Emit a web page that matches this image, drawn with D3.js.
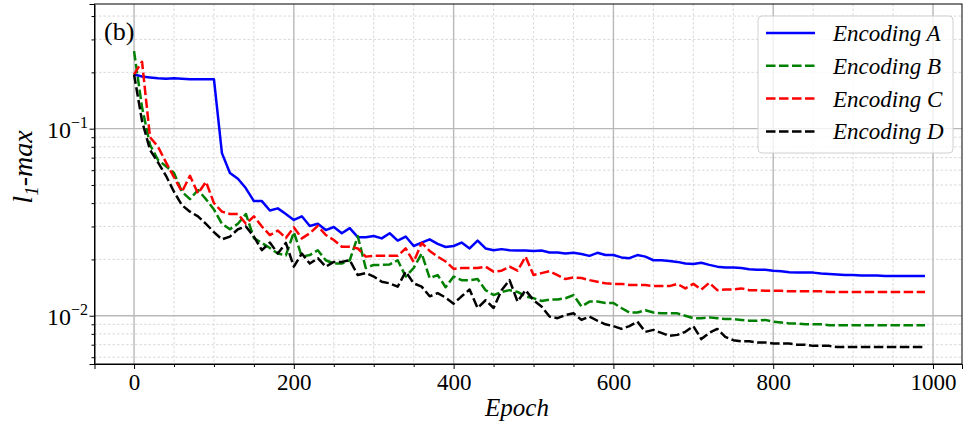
<!DOCTYPE html>
<html>
<head>
<meta charset="utf-8">
<script src="https://d3js.org/d3.v7.min.js"></script>
<style>
  body { margin: 0; background: #fff; }
  svg { display: block; }
  text { font-family: "Liberation Serif", "Times New Roman", serif; }
</style>
</head>
<body>
<div id="chart"></div>
<script>
// epochs sampled every 10
const epochs = d3.range(0, 1000, 10);

const encA = [0.195,0.19,0.188,0.186,0.185,0.186,0.185,0.184,0.184,0.184,
  0.184,0.074,0.058,0.054,0.048,0.041,0.041,0.0365,0.0375,0.035,
  0.0325,0.034,0.0302,0.031,0.0287,0.0298,0.0276,0.0294,0.0263,0.0263,
  0.0267,0.0259,0.0276,0.0252,0.0265,0.0236,0.0246,0.0256,0.0242,0.0233,
  0.0236,0.0246,0.0229,0.0252,0.0229,0.0224,0.0227,0.0224,0.0223,0.0223,
  0.0222,0.0223,0.0218,0.0218,0.0215,0.0217,0.0214,0.0209,0.0217,0.0211,
  0.0211,0.0205,0.0203,0.0211,0.0207,0.0198,0.0198,0.0196,0.0194,0.019,
  0.0189,0.0192,0.0187,0.0183,0.0181,0.0181,0.018,0.0177,0.0176,0.0176,
  0.0174,0.0173,0.0171,0.017,0.017,0.017,0.0168,0.0167,0.0166,0.0165,
  0.0165,0.0164,0.0164,0.0164,0.0163,0.0163,0.0163,0.0163,0.0163,0.0163];

const encB = [0.26,0.13,0.082,0.068,0.063,0.058,0.046,0.042,0.047,0.042,
  0.037,0.031,0.029,0.031,0.035,0.026,0.0245,0.023,0.0215,0.021,
  0.028,0.0207,0.0211,0.0224,0.0198,0.019,0.019,0.0198,0.0266,0.018,
  0.0187,0.0187,0.0188,0.0198,0.0162,0.018,0.0215,0.0159,0.0165,0.0142,
  0.0162,0.0155,0.0155,0.0157,0.0137,0.0129,0.0134,0.0137,0.0134,0.0127,
  0.0124,0.012,0.0122,0.0122,0.0124,0.0129,0.0112,0.0119,0.0119,0.0117,
  0.0117,0.011,0.0104,0.0104,0.0107,0.0104,0.0103,0.0103,0.0103,0.01,
  0.0097,0.0097,0.0098,0.0097,0.0096,0.0096,0.0095,0.0094,0.0094,0.0095,
  0.0093,0.0092,0.0091,0.0091,0.009,0.009,0.009,0.0089,0.0089,0.0089,
  0.0089,0.0089,0.0089,0.0089,0.0089,0.0089,0.0089,0.0089,0.0089,0.0089];

const encC = [0.195,0.228,0.09,0.08,0.066,0.055,0.046,0.056,0.045,0.052,
  0.04,0.036,0.035,0.035,0.031,0.034,0.030,0.027,0.0285,0.026,
  0.0297,0.0259,0.0276,0.0302,0.027,0.0254,0.0234,0.0234,0.0229,0.0207,
  0.0209,0.0209,0.0209,0.0209,0.0229,0.0194,0.0245,0.0222,0.0207,0.0195,
  0.0178,0.018,0.018,0.018,0.0183,0.0172,0.0174,0.0183,0.0174,0.0207,
  0.0165,0.0169,0.0173,0.0165,0.0157,0.016,0.0159,0.0155,0.0152,0.0149,
  0.0148,0.0148,0.0146,0.0146,0.0146,0.0144,0.0144,0.0144,0.0148,0.014,
  0.0148,0.0138,0.015,0.0137,0.0138,0.0138,0.014,0.0137,0.0137,0.0136,
  0.0136,0.0136,0.0135,0.0135,0.0135,0.0135,0.0135,0.0134,0.0134,0.0134,
  0.0134,0.0134,0.0134,0.0134,0.0134,0.0134,0.0134,0.0134,0.0134,0.0134];

const encD = [0.195,0.11,0.077,0.066,0.056,0.046,0.039,0.036,0.034,0.031,
  0.028,0.0256,0.0265,0.029,0.03,0.0265,0.0224,0.0246,0.0215,0.0245,
  0.0183,0.0215,0.019,0.0203,0.0183,0.0194,0.0194,0.0198,0.0165,0.0169,
  0.0162,0.0152,0.0149,0.0143,0.0172,0.0149,0.0143,0.0127,0.0132,0.0125,
  0.0116,0.0127,0.0138,0.011,0.0121,0.011,0.0137,0.0155,0.0119,0.0137,
  0.0121,0.0112,0.0099,0.0097,0.0101,0.0103,0.0095,0.0099,0.0094,0.009,
  0.0088,0.0085,0.0088,0.0093,0.0082,0.0084,0.0081,0.0078,0.0079,0.0082,
  0.0088,0.0075,0.0081,0.0085,0.0077,0.0074,0.0073,0.0073,0.0072,0.0072,
  0.0071,0.0071,0.0071,0.007,0.007,0.0069,0.0069,0.0069,0.0068,0.0068,
  0.0068,0.0068,0.0068,0.0068,0.0068,0.0068,0.0068,0.0068,0.0068,0.0068];

const seriesNames = ["Encoding A", "Encoding B", "Encoding C", "Encoding D"];
const xTicks = [0, 200, 400, 600, 800, 1000];
const xMinorTicks = [50, 100, 150, 250, 300, 350, 450, 500, 550, 650, 700, 750, 850, 900, 950];
const yTicks = [0.01, 0.1];
const yTickLabels = ["\u22122", "\u22121"];
const yMinorTicks = [0.006, 0.007, 0.008, 0.009, 0.02, 0.03, 0.04, 0.05, 0.06, 0.07, 0.08, 0.09, 0.2, 0.3, 0.4];

const width = 963, height = 430;
const plotLeft = 94.5, plotRight = 962, plotTop = 4, plotBottom = 364;

const colors = ["#0000ff", "#008000", "#ff0000", "#000000"];
const dashes = [null, "9.5,3.5", "9.5,3.5", "9.5,3.5"];

const svg = d3.select("#chart").append("svg")
  .attr("width", width)
  .attr("height", height);

const x = d3.scaleLinear().domain([-49.5, 1036.3]).range([plotLeft, plotRight]);
const y = d3.scaleLog().domain([0.00552, 0.464]).range([plotBottom, plotTop]);

// grid
const grid = svg.append("g");
grid.selectAll("line.xminor").data(xMinorTicks).join("line")
  .attr("x1", d => x(d)).attr("x2", d => x(d))
  .attr("y1", plotTop).attr("y2", plotBottom)
  .attr("stroke", "#cfcfcf").attr("stroke-width", 0.8).attr("stroke-dasharray", "2.5,2");
grid.selectAll("line.yminor").data(yMinorTicks).join("line")
  .attr("x1", plotLeft).attr("x2", plotRight)
  .attr("y1", d => y(d)).attr("y2", d => y(d))
  .attr("stroke", "#cfcfcf").attr("stroke-width", 0.8).attr("stroke-dasharray", "2.5,2");
grid.selectAll("line.xmajor").data(xTicks).join("line")
  .attr("x1", d => x(d)).attr("x2", d => x(d))
  .attr("y1", plotTop).attr("y2", plotBottom)
  .attr("stroke", "#b8b8b8").attr("stroke-width", 1.4);
grid.selectAll("line.ymajor").data(yTicks).join("line")
  .attr("x1", plotLeft).attr("x2", plotRight)
  .attr("y1", d => y(d)).attr("y2", d => y(d))
  .attr("stroke", "#b8b8b8").attr("stroke-width", 1.4);

// lines
svg.append("clipPath").attr("id", "clip")
  .append("rect").attr("x", plotLeft).attr("y", plotTop)
  .attr("width", plotRight - plotLeft).attr("height", plotBottom - plotTop);

const allSeries = [encA, encB, encC, encD];
const line = d3.line().x((d, i) => x(epochs[i])).y(d => y(d));

svg.append("g").attr("clip-path", "url(#clip)")
  .selectAll("path").data(allSeries).join("path")
  .attr("d", d => line(d))
  .attr("fill", "none")
  .attr("stroke", (d, i) => colors[i])
  .attr("stroke-width", 2.5)
  .attr("stroke-dasharray", (d, i) => dashes[i])
  .attr("stroke-linejoin", "round");

// axes
const xAxis = svg.append("g").attr("transform", `translate(0,${plotBottom})`)
  .call(d3.axisBottom(x).tickValues(xTicks).tickSize(5).tickPadding(5).tickFormat(d3.format("d")));
svg.append("g").attr("transform", `translate(0,${plotBottom})`)
  .call(d3.axisBottom(x).tickValues(xMinorTicks).tickSize(3).tickFormat(""))
  .call(g => g.select(".domain").remove());
xAxis.selectAll("text").attr("font-size", 23).attr("fill", "#000")
  .style("font-family", "'Liberation Serif', serif");

svg.append("g").attr("transform", `translate(${plotLeft},0)`)
  .call(d3.axisLeft(y).tickValues(yTicks).tickSize(5).tickFormat(""));
svg.append("g").attr("transform", `translate(${plotLeft},0)`)
  .call(d3.axisLeft(y).tickValues(yMinorTicks).tickSize(3).tickFormat(""))
  .call(g => g.select(".domain").remove());

const yLab = svg.append("g").selectAll("text").data(yTicks).join("text")
  .attr("x", 88)
  .attr("y", d => y(d) + 9)
  .attr("text-anchor", "end")
  .attr("font-size", 24);
yLab.append("tspan").text("10");
yLab.append("tspan").attr("font-size", 16).attr("dy", -10).text((d, i) => yTickLabels[i]);

svg.selectAll(".domain").attr("stroke", "#000");
svg.selectAll(".tick line").attr("stroke", "#000");

// frame
svg.append("rect")
  .attr("x", plotLeft).attr("y", plotTop)
  .attr("width", plotRight - plotLeft).attr("height", plotBottom - plotTop)
  .attr("fill", "none").attr("stroke", "#000").attr("stroke-width", 1);

// labels
svg.append("text")
  .attr("x", 517).attr("y", 416)
  .attr("text-anchor", "middle")
  .attr("font-size", 25).attr("font-style", "italic")
  .text("Epoch");

const yl = svg.append("text")
  .attr("transform", "translate(32,167) rotate(-90)")
  .attr("text-anchor", "middle")
  .attr("font-size", 28).attr("font-style", "italic");
yl.append("tspan").text("l");
yl.append("tspan").attr("font-size", 19).attr("dy", 6).text("1");
yl.append("tspan").attr("dy", -6).text("-max");

svg.append("text")
  .attr("x", 104).attr("y", 40)
  .attr("font-size", 26)
  .text("(b)");

// legend
const legend = svg.append("g");
legend.append("rect")
  .attr("x", 758).attr("y", 16).attr("width", 195).attr("height", 137)
  .attr("rx", 4)
  .attr("fill", "#fff").attr("fill-opacity", 0.8)
  .attr("stroke", "#d0d0d0").attr("stroke-width", 1);
const items = legend.selectAll("g.item").data(seriesNames).join("g")
  .attr("transform", (d, i) => `translate(0,${33 + i * 32.8})`);
items.append("line")
  .attr("x1", 766).attr("x2", 815)
  .attr("stroke", (d, i) => colors[i])
  .attr("stroke-width", 2.5)
  .attr("stroke-dasharray", (d, i) => dashes[i]);
items.append("text")
  .attr("x", 833).attr("y", 8)
  .attr("font-size", 23).attr("font-style", "italic")
  .text(d => d);
</script>
</body>
</html>
